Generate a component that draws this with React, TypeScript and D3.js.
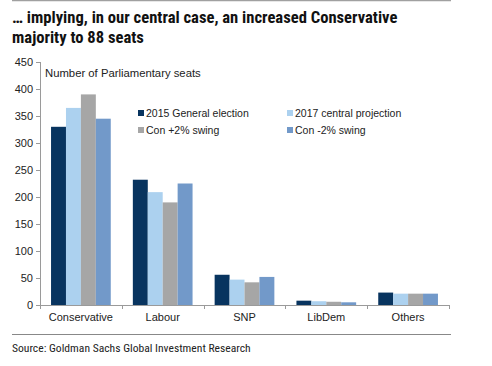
import React, { useEffect, useRef } from 'react';
import * as d3 from 'd3';

const parties = ['Conservative', 'Labour', 'SNP', 'LibDem', 'Others'];
const seriesNames = ['2015 General election', '2017 central projection', 'Con +2% swing', 'Con -2% swing'];
const ge2015 = [330, 232, 56, 8, 23];
const central2017 = [365, 209, 47, 7, 21];
const conPlus2 = [390, 190, 42, 6, 21];
const conMinus2 = [345, 225, 52, 5, 21];
const yTicks = [0, 50, 100, 150, 200, 250, 300, 350, 400, 450];
const colors = ['#08345f', '#acd1ef', '#a6a6a6', '#7299c9'];

const App: React.FC = () => {
  const svgRef = useRef<SVGSVGElement>(null);

  useEffect(() => {
    if (!svgRef.current) return;
    const svg = d3.select(svgRef.current);
    svg.selectAll('*').remove();

    const width = 492;
    const height = 366;
    const sans = 'Arial, "Liberation Sans", sans-serif';
    const narrow = '"Arial Narrow", "Liberation Sans Narrow", "Roboto Condensed", "Liberation Sans", sans-serif';

    svg.attr('width', width).attr('height', height);
    svg.append('rect').attr('width', width).attr('height', height).attr('fill', '#fff');

    // top and bottom rules
    svg.append('line').attr('x1', 12).attr('x2', 451).attr('y1', 0.5).attr('y2', 0.5)
      .attr('stroke', '#a0a0a0').attr('stroke-width', 1.5);
    svg.append('line').attr('x1', 12).attr('x2', 451).attr('y1', 334.5).attr('y2', 334.5)
      .attr('stroke', '#888').attr('stroke-width', 1);

    // title
    const title = svg.append('text').attr('font-family', narrow).attr('font-weight', 'bold')
      .attr('font-size', 16.6).attr('fill', '#111').attr('font-stretch', 'condensed');
    title.append('tspan').attr('x', 12).attr('y', 23).text('… implying, in our central case, an increased Conservative');
    title.append('tspan').attr('x', 12).attr('y', 43).text('majority to 88 seats');

    svg.append('text').attr('x', 12).attr('y', 352).attr('font-family', narrow)
      .attr('font-size', 11.6).attr('fill', '#222').attr('font-stretch', 'condensed')
      .text('Source: Goldman Sachs Global Investment Research');

    const left = 40, right = 449, top = 62, bottom = 305;
    const x = d3.scaleBand<string>().domain(parties).range([left, right]).paddingInner(0.27).paddingOuter(0.135);
    const xs = d3.scaleBand<number>().domain([0, 1, 2, 3]).range([0, x.bandwidth()]);
    const y = d3.scaleLinear().domain([0, 450]).range([bottom, top]);

    const values = [ge2015, central2017, conPlus2, conMinus2];
    values.forEach((vals, s) => {
      svg.append('g').selectAll('rect').data(vals).join('rect')
        .attr('x', (_, i) => (x(parties[i]) as number) + (xs(s) as number))
        .attr('y', d => y(d))
        .attr('width', xs.bandwidth())
        .attr('height', d => bottom - y(d))
        .attr('fill', colors[s]);
    });

    // axes
    const axisColor = '#9a9a9a';
    svg.append('line').attr('x1', left + 0.5).attr('x2', left + 0.5).attr('y1', top).attr('y2', bottom)
      .attr('stroke', axisColor);
    svg.append('line').attr('x1', left).attr('x2', right).attr('y1', bottom + 0.5).attr('y2', bottom + 0.5)
      .attr('stroke', axisColor);
    yTicks.forEach(t => {
      svg.append('line').attr('x1', left - 4).attr('x2', left).attr('y1', Math.round(y(t)) + 0.5)
        .attr('y2', Math.round(y(t)) + 0.5).attr('stroke', axisColor);
      svg.append('text').attr('x', 33).attr('y', y(t)).attr('dy', '0.35em').attr('text-anchor', 'end')
        .attr('font-family', sans).attr('font-size', 11).attr('fill', '#222').text(t);
    });
    const step = x.step();
    d3.range(parties.length + 1).forEach(i => {
      const tx = Math.round(left + i * step) + 0.5;
      svg.append('line').attr('x1', tx).attr('x2', tx).attr('y1', bottom).attr('y2', bottom + 4)
        .attr('stroke', axisColor);
    });
    parties.forEach(p => {
      svg.append('text').attr('x', (x(p) as number) + x.bandwidth() / 2).attr('y', 317).attr('dy', '0.35em')
        .attr('text-anchor', 'middle').attr('font-family', sans).attr('font-size', 11).attr('fill', '#222').text(p);
    });

    // legend
    svg.append('text').attr('x', 45).attr('y', 73).attr('dy', '0.35em').attr('font-family', sans)
      .attr('font-size', 11.3).attr('fill', '#222').text('Number of Parliamentary seats');
    const legendPos = [[138, 113], [287, 113], [138, 130], [287, 130]];
    seriesNames.forEach((n, i) => {
      const [lx, ly] = legendPos[i];
      svg.append('rect').attr('x', lx).attr('y', ly - 3).attr('width', 6).attr('height', 6).attr('fill', colors[i]);
      svg.append('text').attr('x', lx + 8).attr('y', ly).attr('dy', '0.35em').attr('font-family', sans)
        .attr('font-size', 10.5).attr('fill', '#222').text(n);
    });
  }, []);

  return <svg ref={svgRef} style={{ display: 'block', position: 'absolute', left: 0, top: 0 }}></svg>;
};

export default App;
